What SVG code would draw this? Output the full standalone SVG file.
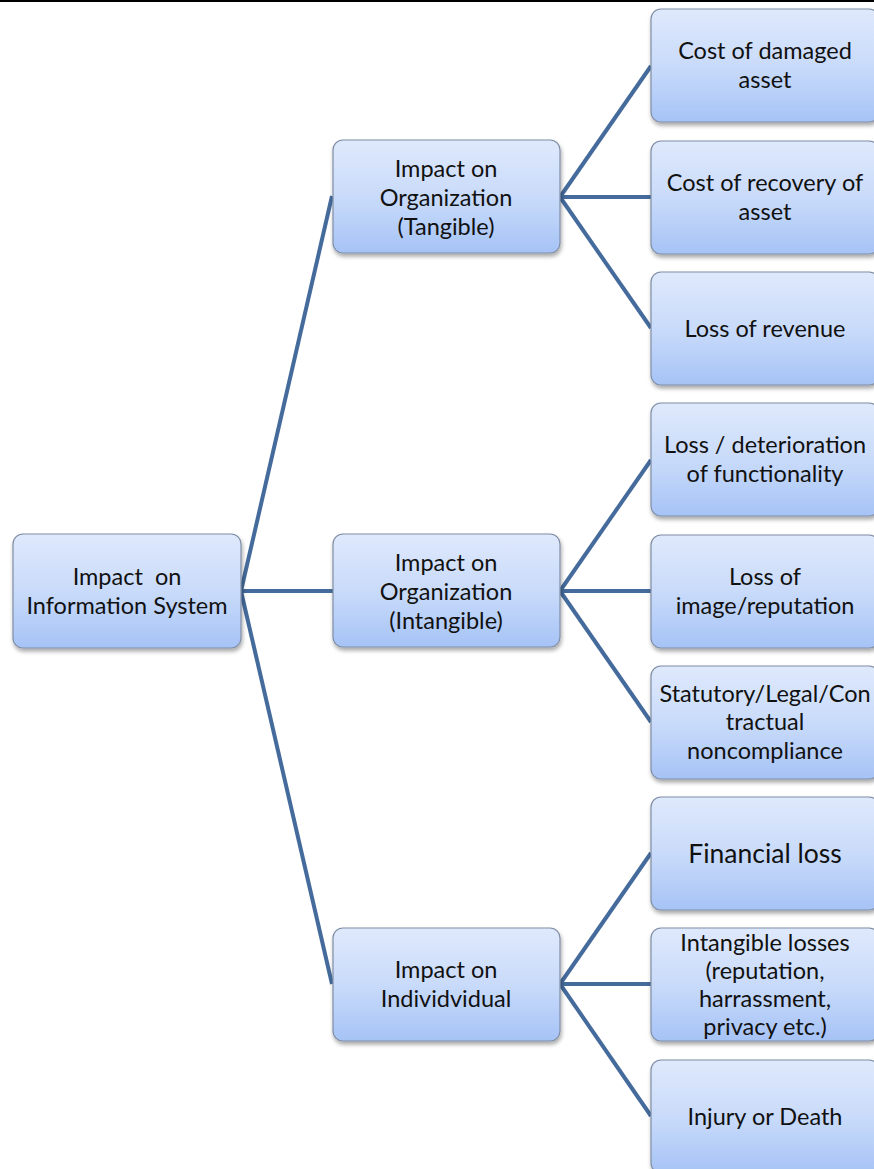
<svg xmlns="http://www.w3.org/2000/svg" width="874" height="1169" viewBox="0 0 874 1169">
<defs>
<linearGradient id="g" x1="0" y1="0" x2="0" y2="1">
<stop offset="0" stop-color="#dfe9fc"/>
<stop offset="0.5" stop-color="#c9dbfa"/>
<stop offset="1" stop-color="#a6c3f6"/>
</linearGradient>
<filter id="sh" x="-10%" y="-10%" width="125%" height="130%">
<feGaussianBlur in="SourceAlpha" stdDeviation="2"/>
<feOffset dx="1" dy="3"/>
<feComponentTransfer><feFuncA type="linear" slope="0.35"/></feComponentTransfer>
<feMerge><feMergeNode/><feMergeNode in="SourceGraphic"/></feMerge>
</filter>
</defs>
<style>
.box{fill:url(#g);stroke:#7f8ea6;stroke-width:1.2;filter:url(#sh)}
.t{font-family:Lato,"Open Sans","Liberation Sans",sans-serif;font-size:23.5px;fill:#111;text-anchor:middle;white-space:pre}
.big{font-size:26.5px}
.c{stroke:#456b9c;stroke-width:4;fill:none;stroke-linecap:butt}
</style>
<rect x="0" y="0" width="874" height="2" fill="#000"/>
<g id="connectors">
<line class="c" x1="241" y1="591" x2="332" y2="196"/>
<line class="c" x1="241" y1="591" x2="333" y2="591"/>
<line class="c" x1="241" y1="591" x2="332" y2="984"/>
<line class="c" x1="560" y1="197" x2="651" y2="66"/>
<line class="c" x1="560" y1="197" x2="651" y2="197"/>
<line class="c" x1="560" y1="197" x2="651" y2="328"/>
<line class="c" x1="560" y1="591" x2="651" y2="460"/>
<line class="c" x1="560" y1="591" x2="651" y2="591"/>
<line class="c" x1="560" y1="591" x2="651" y2="722"/>
<line class="c" x1="560" y1="984" x2="651" y2="853"/>
<line class="c" x1="560" y1="984" x2="651" y2="984"/>
<line class="c" x1="560" y1="984" x2="651" y2="1116"/>
</g>
<g id="n-root"><rect class="box" x="13" y="534" width="228" height="114" rx="10"/>
<text class="t" x="127" y="585" xml:space="preserve">Impact  on</text><text class="t" x="127" y="614">Information System</text></g>
<g id="n-tangible"><rect class="box" x="333" y="140" width="227" height="113" rx="10"/>
<text class="t" x="446" y="177">Impact on</text><text class="t" x="446" y="206">Organization</text><text class="t" x="446" y="235">(Tangible)</text></g>
<g id="n-intangible"><rect class="box" x="333" y="534" width="227" height="113" rx="10"/>
<text class="t" x="446" y="571">Impact on</text><text class="t" x="446" y="600">Organization</text><text class="t" x="446" y="629">(Intangible)</text></g>
<g id="n-individual"><rect class="box" x="333" y="928" width="227" height="113" rx="10"/>
<text class="t" x="446" y="978">Impact on</text><text class="t" x="446" y="1007">Individvidual</text></g>
<g id="n-l1"><rect class="box" x="651" y="9" width="228" height="113" rx="10"/>
<text class="t" x="765" y="59">Cost of damaged</text><text class="t" x="765" y="88">asset</text></g>
<g id="n-l2"><rect class="box" x="651" y="141" width="228" height="113" rx="10"/>
<text class="t" x="765" y="191">Cost of recovery of</text><text class="t" x="765" y="220">asset</text></g>
<g id="n-l3"><rect class="box" x="651" y="272" width="228" height="113" rx="10"/>
<text class="t" x="765" y="337">Loss of revenue</text></g>
<g id="n-l4"><rect class="box" x="651" y="403" width="228" height="113" rx="10"/>
<text class="t" x="765" y="453">Loss / deterioration</text><text class="t" x="765" y="482">of functionality</text></g>
<g id="n-l5"><rect class="box" x="651" y="535" width="228" height="113" rx="10"/>
<text class="t" x="765" y="585">Loss of</text><text class="t" x="765" y="614">image/reputation</text></g>
<g id="n-l6"><rect class="box" x="651" y="666" width="228" height="113" rx="10"/>
<text class="t" x="765" y="702">Statutory/Legal/Con</text><text class="t" x="765" y="730">tractual</text><text class="t" x="765" y="759">noncompliance</text></g>
<g id="n-l7"><rect class="box" x="651" y="797" width="228" height="113" rx="10"/>
<text class="t big" x="765" y="863">Financial loss</text></g>
<g id="n-l8"><rect class="box" x="651" y="928" width="228" height="113" rx="10"/>
<text class="t" x="765" y="951">Intangible losses</text><text class="t" x="765" y="979">(reputation,</text><text class="t" x="765" y="1007">harrassment,</text><text class="t" x="765" y="1035">privacy etc.)</text></g>
<g id="n-l9"><rect class="box" x="651" y="1060" width="228" height="113" rx="10"/>
<text class="t" x="765" y="1125">Injury or Death</text></g>
</svg>
